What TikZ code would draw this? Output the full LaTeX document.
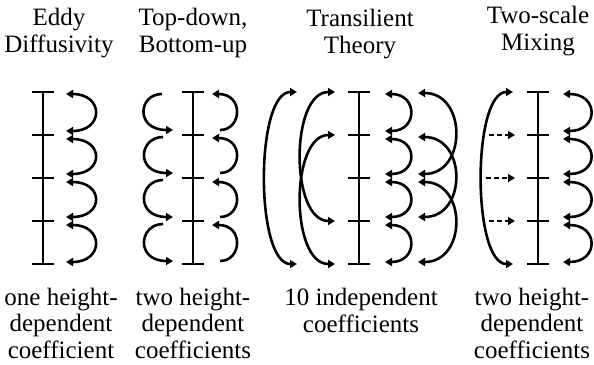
\documentclass[tikz,border=0pt]{standalone}
\usepackage{fontspec}
\setmainfont{Liberation Serif}
\usetikzlibrary{arrows.meta}

\tikzset{
  axisline/.style={line width=2.2pt},
  tickmark/.style={line width=1.3pt},
  loopline/.style={line width=2.6pt, {Triangle[length=7pt,width=8pt]}-{Triangle[length=7pt,width=8pt]}},
  oneway/.style={line width=2.6pt, -{Triangle[length=7pt,width=8pt]}},
  dashline/.style={line width=1.4pt, dash pattern=on 5pt off 3pt, -{Triangle[length=7pt,width=8pt]}},
  label/.style={font=\fontsize{25}{26.5}\selectfont, align=center, anchor=base, inner sep=0pt},
}

\begin{document}
\begin{tikzpicture}[x=1pt,y=-1pt]
\useasboundingbox (0,0) rectangle (594,364);
\node[label] (ttl-eddy) at (59,52) {Eddy\\Diffusivity};
\node[label] (ttl-topdown) at (193,52) {Top-down,\\Bottom-up};
\node[label] (ttl-trans) at (360,53) {Transilient\\Theory};
\node[label] (ttl-twoscale) at (538,50) {Two-scale\\Mixing};
\node[label] (cap-eddy) at (61,358) {one height-\\dependent\\coefficient};
\node[label] (cap-topdown) at (193,358) {two height-\\dependent\\coefficients};
\node[label] (cap-trans) at (361,332) {10 independent\\coefficients};
\node[label] (cap-twoscale) at (532,358) {two height-\\dependent\\coefficients};

\foreach \name/\x in {ed/43, td/193, tr/359, ts/538} {
  \foreach \y [count=\i] in {92,135,178,221,264}
    \coordinate (\name\i) at (\x,\y);
  \draw[axisline] (\name1) -- (\name5);
  \foreach \i in {1,...,5}
    \draw[tickmark] ([xshift=-11pt]\name\i) -- ([xshift=11pt]\name\i);
}

\coordinate (edr1s) at (66,94);
\coordinate (edr2n) at (66,131); \coordinate (edr2s) at (66,139);
\coordinate (edr3n) at (66,174); \coordinate (edr3s) at (66,182);
\coordinate (edr4n) at (66,217); \coordinate (edr4s) at (66,225);
\coordinate (edr5n) at (66,262);
\draw[loopline] (edr1s) .. controls +(38,0) and +(38,0) .. (edr2n);
\draw[loopline] (edr2s) .. controls +(38,0) and +(38,0) .. (edr3n);
\draw[loopline] (edr3s) .. controls +(38,0) and +(38,0) .. (edr4n);
\draw[loopline] (edr4s) .. controls +(38,0) and +(38,0) .. (edr5n);

\coordinate (tdw1a) at (162,94);  \coordinate (tdw1b) at (173,130);
\coordinate (tdw2a) at (163,137); \coordinate (tdw2b) at (173,173);
\coordinate (tdw3a) at (163,180); \coordinate (tdw3b) at (173,217);
\coordinate (tdw4a) at (163,224); \coordinate (tdw4b) at (173,261);
\draw[oneway] (tdw1a) .. controls +(-24,0) and +(-38,0) .. (tdw1b);
\draw[oneway] (tdw2a) .. controls +(-24,0) and +(-38,0) .. (tdw2b);
\draw[oneway] (tdw3a) .. controls +(-24,0) and +(-38,0) .. (tdw3b);
\draw[oneway] (tdw4a) .. controls +(-24,0) and +(-38,0) .. (tdw4b);
\coordinate (tde1a) at (220,130); \coordinate (tde1b) at (212,94);
\coordinate (tde2a) at (220,173); \coordinate (tde2b) at (212,138);
\coordinate (tde3a) at (220,217); \coordinate (tde3b) at (212,182);
\coordinate (tde4a) at (220,261); \coordinate (tde4b) at (212,225);
\draw[oneway] (tde1a) .. controls +(22,0) and +(32,0) .. (tde1b);
\draw[oneway] (tde2a) .. controls +(22,0) and +(32,0) .. (tde2b);
\draw[oneway] (tde3a) .. controls +(22,0) and +(32,0) .. (tde3b);
\draw[oneway] (tde4a) .. controls +(22,0) and +(32,0) .. (tde4b);

\coordinate (trf1) at (297,92); \coordinate (trf5) at (297,264);
\draw[loopline] (trf1) .. controls +(-42,0) and +(-42,0) .. (trf5);
\coordinate (trw1) at (335,92);  \coordinate (trw2) at (335,135);
\coordinate (trw4) at (335,221); \coordinate (trw5) at (335,264);
\draw[loopline] (trw1) .. controls +(-45,0) and +(-45,0) .. (trw4);
\draw[loopline] (trw2) .. controls +(-45,0) and +(-45,0) .. (trw5);
\coordinate (trr1s) at (385,94);
\coordinate (trr2n) at (385,131); \coordinate (trr2s) at (385,139);
\coordinate (trr3n) at (385,174); \coordinate (trr3s) at (385,182);
\coordinate (trr4n) at (385,217); \coordinate (trr4s) at (385,225);
\coordinate (trr5n) at (385,262);
\draw[loopline] (trr1s) .. controls +(33,0) and +(33,0) .. (trr2n);
\draw[loopline] (trr2s) .. controls +(33,0) and +(33,0) .. (trr3n);
\draw[loopline] (trr3s) .. controls +(33,0) and +(33,0) .. (trr4n);
\draw[loopline] (trr4s) .. controls +(33,0) and +(33,0) .. (trr5n);
\coordinate (trs1) at (418,93);   \coordinate (trs2) at (418,137);
\coordinate (trs3n) at (418,174); \coordinate (trs3s) at (418,182);
\coordinate (trs4) at (418,217);  \coordinate (trs5) at (418,262);
\draw[loopline] (trs1) .. controls +(49,0) and +(49,0) .. (trs3n);
\draw[loopline] (trs2) .. controls +(49,0) and +(49,0) .. (trs4);
\draw[loopline] (trs3s) .. controls +(49,0) and +(49,0) .. (trs5);

\coordinate (tsr1s) at (563,94);
\coordinate (tsr2n) at (563,131); \coordinate (tsr2s) at (563,139);
\coordinate (tsr3n) at (563,174); \coordinate (tsr3s) at (563,182);
\coordinate (tsr4n) at (563,217); \coordinate (tsr4s) at (563,225);
\coordinate (tsr5n) at (563,262);
\draw[loopline] (tsr1s) .. controls +(36,0) and +(36,0) .. (tsr2n);
\draw[loopline] (tsr2s) .. controls +(36,0) and +(36,0) .. (tsr3n);
\draw[loopline] (tsr3s) .. controls +(36,0) and +(36,0) .. (tsr4n);
\draw[loopline] (tsr4s) .. controls +(36,0) and +(36,0) .. (tsr5n);
\coordinate (tsw1) at (513,92); \coordinate (tsw5) at (513,264);
\draw[loopline] (tsw1) .. controls +(-41,0) and +(-41,0) .. (tsw5);
\coordinate (tsd2) at (489,135); \coordinate (tsk2) at (515,135);
\coordinate (tsd3) at (486,178); \coordinate (tsk3) at (515,178);
\coordinate (tsd4) at (489,221); \coordinate (tsk4) at (515,221);
\draw[dashline] (tsd2) -- (tsk2);
\draw[dashline] (tsd3) -- (tsk3);
\draw[dashline] (tsd4) -- (tsk4);
\end{tikzpicture}
\end{document}
